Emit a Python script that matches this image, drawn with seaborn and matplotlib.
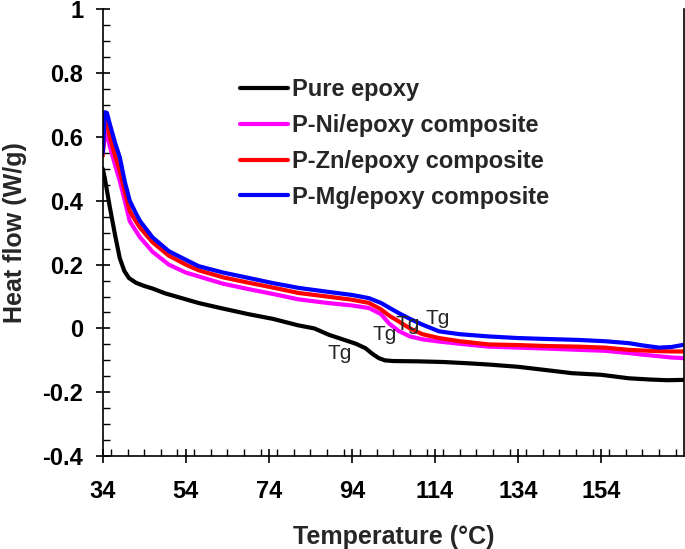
import numpy as np
import pandas as pd
import matplotlib
matplotlib.use("Agg")
import matplotlib.pyplot as plt
from matplotlib.ticker import MultipleLocator, FixedLocator
import seaborn as sns

# ---------------- data ----------------
series_names = ["Pure epoxy", "P-Ni/epoxy composite", "P-Zn/epoxy composite", "P-Mg/epoxy composite"]

pure_T = [34, 34.5, 35.7, 37, 38.1, 39.2, 40.3, 42, 44, 46, 49, 53, 57, 62, 69, 75, 81, 85, 88.5, 92, 95,
          97.3, 99, 100.5, 102, 104, 110, 116, 122, 127, 134, 140.6, 147, 154, 160.7, 166, 170, 174]
pure_H = [0.50, 0.47, 0.38, 0.29, 0.22, 0.18, 0.158, 0.143, 0.133, 0.125, 0.11, 0.095, 0.08, 0.065, 0.045,
          0.03, 0.01, 0.0, -0.02, -0.035, -0.048, -0.062, -0.08, -0.093, -0.1, -0.102, -0.103, -0.105,
          -0.109, -0.113, -0.12, -0.13, -0.14, -0.145, -0.156, -0.16, -0.162, -0.161]

comp_T = [34, 34.5, 35, 35.7, 37, 38.1, 39.3, 40.5, 42, 43, 46, 49.9, 54, 57.1, 63, 69.2, 75, 81.2,
          88, 94, 98.1, 101, 103, 105.3, 108, 111, 115, 120, 127, 134, 141, 148.7, 155, 160.7, 164,
          168, 171, 174]
ni_H = [0.55, 0.6, 0.61, 0.57, 0.51, 0.462, 0.40, 0.336, 0.305, 0.285, 0.24, 0.2, 0.175, 0.163, 0.14,
        0.123, 0.108, 0.091, 0.08, 0.072, 0.064, 0.045, 0.015, -0.008, -0.025, -0.034, -0.041, -0.048,
        -0.057, -0.06, -0.063, -0.067, -0.07, -0.077, -0.082, -0.087, -0.091, -0.093]
zn_H = [0.54, 0.657, 0.645, 0.6, 0.54, 0.494, 0.43, 0.368, 0.335, 0.315, 0.27, 0.228, 0.2, 0.182, 0.16,
        0.143, 0.128, 0.111, 0.1, 0.09, 0.08, 0.06, 0.04, 0.022, 0.0, -0.018, -0.03, -0.04, -0.05,
        -0.052, -0.055, -0.057, -0.06, -0.067, -0.069, -0.071, -0.072, -0.072]
mg_H = [0.55, 0.677, 0.675, 0.64, 0.58, 0.536, 0.46, 0.40, 0.36, 0.336, 0.285, 0.242, 0.215, 0.195,
        0.175, 0.158, 0.142, 0.127, 0.115, 0.105, 0.095, 0.08, 0.065, 0.048, 0.03, 0.012, -0.009,
        -0.018, -0.025, -0.03, -0.033, -0.036, -0.04, -0.046, -0.053, -0.06, -0.058, -0.051]

tg_T = [91.1, 102.0, 107.5, 114.7]
tg_H = [-0.079, -0.019, 0.013, 0.031]
tg_label = "Tg"

x_ticks = [34, 54, 74, 94, 114, 134, 154]
y_ticks = [-0.4, -0.2, 0, 0.2, 0.4, 0.6, 0.8, 1]
y_tick_labels = ["-0.4", "-0.2", "0", "0.2", "0.4", "0.6", "0.8", "1"]

colors = ["#000000", "#FF00FF", "#FF0000", "#0000FF"]

frames = [
    pd.DataFrame({"T": pure_T, "H": pure_H, "Sample": series_names[0]}),
    pd.DataFrame({"T": comp_T, "H": ni_H, "Sample": series_names[1]}),
    pd.DataFrame({"T": comp_T, "H": zn_H, "Sample": series_names[2]}),
    pd.DataFrame({"T": comp_T, "H": mg_H, "Sample": series_names[3]}),
]
df = pd.concat(frames, ignore_index=True)

# ---------------- style ----------------
sns.set_style("ticks")
plt.rcParams["font.family"] = ["Liberation Sans", "DejaVu Sans"]
plt.rcParams["font.weight"] = "bold"

fig = plt.figure(figsize=(6.85, 5.49), dpi=100)
ax = fig.add_axes([0.150, 0.169, 0.8485, 0.8145])

sns.lineplot(data=df, x="T", y="H", hue="Sample", hue_order=series_names,
             palette=colors, linewidth=3.0, estimator=None, sort=False, ax=ax, legend=True)

for t, h in zip(tg_T, tg_H):
    ax.text(t, h, tg_label, fontsize=15, fontweight="normal", ha="center", va="center")

ax.set_xlim(34, 174)
ax.set_ylim(-0.4, 1.0)
ax.xaxis.set_major_locator(FixedLocator(x_ticks))
ax.xaxis.set_minor_locator(MultipleLocator(4))
ax.set_yticks(y_ticks)
ax.set_yticklabels(y_tick_labels)
ax.yaxis.set_minor_locator(MultipleLocator(0.05))

for lab in ax.get_xticklabels() + ax.get_yticklabels():
    lab.set_fontweight("bold")
    lab.set_fontsize(17)

ax.tick_params(which="major", direction="inout", length=10, width=1.2, colors="black")
ax.tick_params(which="minor", direction="in", length=5, width=1.0, colors="black")
ax.tick_params(axis="x", which="major", pad=12)
ax.tick_params(axis="y", which="major", pad=9)

ax.spines["top"].set_visible(False)
ax.spines["right"].set_visible(True)
for s in ["left", "bottom", "right"]:
    ax.spines[s].set_linewidth(1.2)
    ax.spines[s].set_color("black")

ax.set_xlabel("Temperature (°C)", fontsize=18, fontweight="bold", labelpad=16)
ax.set_ylabel("Heat flow (W/g)", fontsize=18, fontweight="bold", labelpad=11)

handles, labels = ax.get_legend_handles_labels()
leg = ax.legend(handles, labels, loc="upper left", bbox_to_anchor=(0.236, 0.845), frameon=False,
                handlelength=2.03, handletextpad=0.17, labelspacing=0.54, borderpad=0,
                borderaxespad=0, prop={"weight": "bold", "size": 17})
for line in leg.get_lines():
    line.set_linewidth(3.0)

fig.savefig("out.png", dpi=100)
